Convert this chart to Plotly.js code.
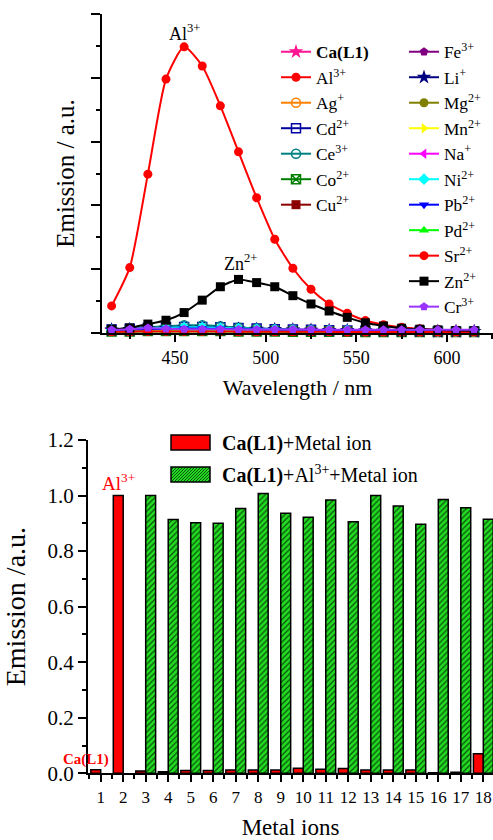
<!DOCTYPE html>
<html>
<head>
<meta charset="utf-8">
<script src="https://cdn.plot.ly/plotly-3.0.1.min.js"></script>
<style>
  html, body { margin: 0; padding: 0; background: #ffffff; }
  #chart { width: 493px; height: 840px; }
</style>
</head>
<body>
<div id="chart"></div>
<script>
// ---- Emission spectra (top panel) ----
const wavelength = [415, 425, 435, 445, 455, 465, 475, 485, 495, 505, 515, 525, 535, 545, 555, 565, 575, 585, 595, 605, 615];

const emCaL1 = [0.008, 0.009, 0.010, 0.010, 0.011, 0.011, 0.011, 0.010, 0.010, 0.009, 0.009, 0.008, 0.008, 0.007, 0.007, 0.006, 0.006, 0.006, 0.005, 0.005, 0.005];
const emAl   = [0.085, 0.205, 0.498, 0.796, 0.897, 0.837, 0.712, 0.568, 0.424, 0.294, 0.203, 0.137, 0.091, 0.062, 0.039, 0.026, 0.018, 0.013, 0.010, 0.008, 0.007];
const emAg   = [0.009, 0.010, 0.012, 0.013, 0.014, 0.014, 0.013, 0.012, 0.011, 0.010, 0.009, 0.008, 0.008, 0.007, 0.007, 0.006, 0.006, 0.005, 0.005, 0.005, 0.005];
const emCd   = [0.011, 0.013, 0.016, 0.018, 0.019, 0.019, 0.018, 0.016, 0.014, 0.012, 0.011, 0.010, 0.009, 0.008, 0.007, 0.007, 0.006, 0.006, 0.005, 0.005, 0.005];
const emCe   = [0.012, 0.014, 0.018, 0.021, 0.024, 0.024, 0.021, 0.017, 0.014, 0.012, 0.011, 0.010, 0.009, 0.008, 0.007, 0.007, 0.006, 0.006, 0.006, 0.005, 0.005];
const emCo   = [0.005, 0.005, 0.006, 0.006, 0.006, 0.006, 0.006, 0.005, 0.005, 0.005, 0.004, 0.004, 0.004, 0.004, 0.003, 0.003, 0.003, 0.003, 0.003, 0.003, 0.003];
const emCu   = [0.006, 0.006, 0.007, 0.007, 0.007, 0.007, 0.007, 0.006, 0.006, 0.006, 0.005, 0.005, 0.005, 0.004, 0.004, 0.004, 0.004, 0.003, 0.003, 0.003, 0.003];
const emFe   = [0.007, 0.008, 0.009, 0.009, 0.010, 0.010, 0.009, 0.009, 0.008, 0.008, 0.007, 0.007, 0.006, 0.006, 0.006, 0.005, 0.005, 0.005, 0.005, 0.004, 0.004];
const emLi   = [0.010, 0.011, 0.013, 0.015, 0.016, 0.016, 0.015, 0.013, 0.012, 0.011, 0.010, 0.009, 0.008, 0.008, 0.007, 0.006, 0.006, 0.006, 0.005, 0.005, 0.005];
const emMg   = [0.008, 0.009, 0.010, 0.011, 0.012, 0.012, 0.011, 0.010, 0.010, 0.009, 0.008, 0.008, 0.007, 0.007, 0.006, 0.006, 0.005, 0.005, 0.005, 0.005, 0.004];
const emMn   = [0.007, 0.008, 0.009, 0.010, 0.010, 0.010, 0.010, 0.009, 0.009, 0.008, 0.008, 0.007, 0.007, 0.006, 0.006, 0.005, 0.005, 0.005, 0.005, 0.004, 0.004];
const emNa   = [0.009, 0.010, 0.011, 0.012, 0.013, 0.013, 0.012, 0.011, 0.010, 0.010, 0.009, 0.008, 0.008, 0.007, 0.007, 0.006, 0.006, 0.005, 0.005, 0.005, 0.005];
const emNi   = [0.010, 0.012, 0.014, 0.016, 0.018, 0.018, 0.016, 0.014, 0.012, 0.011, 0.010, 0.009, 0.008, 0.008, 0.007, 0.007, 0.006, 0.006, 0.005, 0.005, 0.005];
const emPb   = [0.009, 0.010, 0.012, 0.013, 0.014, 0.014, 0.013, 0.012, 0.011, 0.010, 0.009, 0.009, 0.008, 0.007, 0.007, 0.006, 0.006, 0.005, 0.005, 0.005, 0.005];
const emPd   = [0.004, 0.004, 0.005, 0.005, 0.005, 0.005, 0.005, 0.005, 0.004, 0.004, 0.004, 0.004, 0.003, 0.003, 0.003, 0.003, 0.003, 0.003, 0.002, 0.002, 0.002];
const emSr   = [0.004, 0.004, 0.005, 0.005, 0.005, 0.005, 0.005, 0.004, 0.004, 0.004, 0.004, 0.004, 0.004, 0.003, 0.003, 0.003, 0.003, 0.003, 0.003, 0.003, 0.003];
const emZn   = [0.012, 0.016, 0.028, 0.040, 0.064, 0.103, 0.145, 0.168, 0.158, 0.145, 0.117, 0.091, 0.069, 0.049, 0.032, 0.022, 0.015, 0.012, 0.010, 0.008, 0.007];
const emCr   = [0.010, 0.012, 0.016, 0.013, 0.012, 0.012, 0.012, 0.011, 0.011, 0.011, 0.011, 0.011, 0.010, 0.010, 0.010, 0.010, 0.010, 0.010, 0.010, 0.010, 0.010];

// ---- Selectivity bars (bottom panel) ----
const ionIndex = [1, 2, 3, 4, 5, 6, 7, 8, 9, 10, 11, 12, 13, 14, 15, 16, 17, 18];
const withMetal = [0.013, 1.000, 0.008, 0.006, 0.010, 0.010, 0.012, 0.012, 0.012, 0.018, 0.015, 0.017, 0.012, 0.012, 0.012, 0.002, 0.004, 0.070];
const withAlAndMetal = [null, null, 1.000, 0.914, 0.902, 0.900, 0.953, 1.007, 0.936, 0.922, 0.984, 0.906, 1.000, 0.962, 0.897, 0.986, 0.956, 0.915];

const FONT = '"Liberation Serif", "Times New Roman", Times, serif';
const W = 493, H = 840;
const GREEN = '#22dd22', HATCH = '#0b4d0b';

// Series styling: name, values, colour, marker symbol, legend column
const series = [
  ['<b>Ca(L1)</b>', emCaL1, '#ff1493', 'star', 'legend'],
  ['Al<sup>3+</sup>', emAl, '#ff0000', 'circle', 'legend'],
  ['Ag<sup>+</sup>', emAg, '#ff8000', 'circle-open', 'legend'],
  ['Cd<sup>2+</sup>', emCd, '#0000a0', 'square-open', 'legend'],
  ['Ce<sup>3+</sup>', emCe, '#008080', 'circle-open', 'legend'],
  ['Co<sup>2+</sup>', emCo, '#008000', 'square-x-open', 'legend'],
  ['Cu<sup>2+</sup>', emCu, '#8b0000', 'square', 'legend'],
  ['Fe<sup>3+</sup>', emFe, '#800080', 'pentagon', 'legend2'],
  ['Li<sup>+</sup>', emLi, '#000080', 'star', 'legend2'],
  ['Mg<sup>2+</sup>', emMg, '#808000', 'circle', 'legend2'],
  ['Mn<sup>2+</sup>', emMn, '#ffff00', 'triangle-right', 'legend2'],
  ['Na<sup>+</sup>', emNa, '#ff00ff', 'triangle-left', 'legend2'],
  ['Ni<sup>2+</sup>', emNi, '#00ffff', 'diamond', 'legend2'],
  ['Pb<sup>2+</sup>', emPb, '#0000ff', 'triangle-down', 'legend2'],
  ['Pd<sup>2+</sup>', emPd, '#00ff00', 'triangle-up', 'legend2'],
  ['Sr<sup>2+</sup>', emSr, '#ff0000', 'circle', 'legend2'],
  ['Zn<sup>2+</sup>', emZn, '#000000', 'square', 'legend2'],
  ['Cr<sup>3+</sup>', emCr, '#9933ff', 'pentagon', 'legend2']
];

const traces = series.map(([name, vals, color, symbol, leg], i) => ({
  type: 'scatter',
  mode: 'lines+markers',
  x: wavelength,
  y: vals,
  name: name,
  legend: leg,
  legendgroup: 'g' + i,
  xaxis: 'x',
  yaxis: 'y',
  cliponaxis: false,
  line: { color: color, width: 2, shape: 'spline', smoothing: 0.6 },
  marker: {
    color: color,
    symbol: symbol,
    size: symbol === 'star' ? 11 : 9,
    line: { color: color, width: symbol.indexOf('open') >= 0 ? 1.5 : 0 }
  }
}));

traces.push({
  type: 'bar',
  x: ionIndex,
  y: withMetal,
  name: 'Ca(L1)+Metal ion',
  xaxis: 'x2',
  yaxis: 'y2',
  showlegend: false,
  cliponaxis: false,
  marker: { color: '#ff0000', line: { color: '#000000', width: 1.5 } }
});
traces.push({
  type: 'bar',
  x: ionIndex,
  y: withAlAndMetal,
  name: 'Ca(L1)+Al3+ +Metal ion',
  xaxis: 'x2',
  yaxis: 'y2',
  showlegend: false,
  cliponaxis: false,
  marker: {
    color: GREEN,
    line: { color: '#000000', width: 1.5 },
    pattern: { shape: '/', fgcolor: HATCH, bgcolor: GREEN, size: 4, solidity: 0.3, fillmode: 'replace' }
  }
});

// Hatched key swatch for the bar legend, built in pixel offsets
function hatchPath(w, h, step) {
  let p = '';
  for (let t = -h; t < w; t += step) {
    let x0 = t, y0 = 0, x1 = t + h, y1 = h;
    if (x0 < 0) { y0 = -x0; x0 = 0; }
    if (x1 > w) { y1 = h - (x1 - w); x1 = w; }
    p += 'M' + x0 + ',' + y0 + 'L' + x1 + ',' + y1;
  }
  return p;
}

const keyX = 171 / W, keyW = 39, keyH = 15;
const key1Top = 1 - 435 / H, key2Top = 1 - 467 / H;

const shapes = [
  { type: 'rect', xref: 'paper', yref: 'paper', xsizemode: 'pixel', ysizemode: 'pixel',
    xanchor: keyX, yanchor: key1Top, x0: 0, x1: keyW, y0: 0, y1: -keyH,
    fillcolor: '#ff0000', line: { color: '#000000', width: 1.5 } },
  { type: 'rect', xref: 'paper', yref: 'paper', xsizemode: 'pixel', ysizemode: 'pixel',
    xanchor: keyX, yanchor: key2Top, x0: 0, x1: keyW, y0: 0, y1: -keyH,
    fillcolor: GREEN, line: { width: 0 } },
  { type: 'path', xref: 'paper', yref: 'paper', xsizemode: 'pixel', ysizemode: 'pixel',
    xanchor: keyX, yanchor: key2Top - keyH / H,
    path: hatchPath(keyW, keyH, 3), line: { color: HATCH, width: 1 } },
  { type: 'rect', xref: 'paper', yref: 'paper', xsizemode: 'pixel', ysizemode: 'pixel',
    xanchor: keyX, yanchor: key2Top, x0: 0, x1: keyW, y0: 0, y1: -keyH,
    fillcolor: 'rgba(0,0,0,0)', line: { color: '#000000', width: 1.5 } }
];

const annotations = [
  { x: 455, y: 0.9, xref: 'x', yref: 'y', text: 'Al<sup>3+</sup>', showarrow: false,
    yanchor: 'bottom', font: { family: FONT, size: 18, color: '#000000' } },
  { x: 486, y: 0.18, xref: 'x', yref: 'y', text: 'Zn<sup>2+</sup>', showarrow: false,
    yanchor: 'bottom', font: { family: FONT, size: 18, color: '#000000' } },
  { x: 1.78, y: 1.0, xref: 'x2', yref: 'y2', text: 'Al<sup>3+</sup>', showarrow: false,
    yanchor: 'bottom', font: { family: FONT, size: 19, color: '#ff0000' } },
  { x: 111 / W, y: 0.048, xref: 'paper', yref: 'y2', xanchor: 'right',
    text: '<b>Ca(L1)</b>', showarrow: false,
    font: { family: FONT, size: 15, color: '#ff0000' } },
  { x: 220 / W, y: 1 - 443 / H, xref: 'paper', yref: 'paper', xanchor: 'left',
    text: '<b>Ca(L1)</b>+Metal ion', showarrow: false,
    font: { family: FONT, size: 20, color: '#000000' } },
  { x: 220 / W, y: 1 - 474 / H, xref: 'paper', yref: 'paper', xanchor: 'left',
    text: '<b>Ca(L1)</b>+Al<sup>3+</sup>+Metal ion', showarrow: false,
    font: { family: FONT, size: 20, color: '#000000' } }
];

const axisCommon = {
  showline: true, linecolor: '#000000', linewidth: 2,
  ticks: 'outside', tickcolor: '#000000', tickwidth: 2,
  showgrid: false, zeroline: false, mirror: false,
  tickfont: { family: FONT, size: 18, color: '#000000' }
};

const layout = {
  width: W, height: H,
  margin: { l: 0, r: 0, t: 0, b: 0 },
  paper_bgcolor: '#ffffff',
  plot_bgcolor: 'rgba(0,0,0,0)',
  font: { family: FONT, color: '#000000' },
  barmode: 'group',
  bargap: 0.12,
  bargroupgap: 0,
  xaxis: Object.assign({}, axisCommon, {
    domain: [102 / W, 1], anchor: 'y',
    range: [409.7, 625.4], tick0: 450, dtick: 50, ticklen: 7,
    minor: { dtick: 25, ticklen: 4, tickwidth: 2, tickcolor: '#000000', ticks: 'outside' },
    title: { text: 'Wavelength / nm', standoff: 13, font: { family: FONT, size: 22, color: '#000000' } }
  }),
  yaxis: Object.assign({}, axisCommon, {
    domain: [1 - 333 / H, 1 - 14 / H], anchor: 'x',
    range: [0, 1], dtick: 0.2, ticklen: 9, showticklabels: false,
    minor: { dtick: 0.1, ticklen: 4, tickwidth: 2, tickcolor: '#000000', ticks: 'outside' },
    title: { text: 'Emission / a.u.', standoff: 9, font: { family: FONT, size: 25, color: '#000000' } }
  }),
  xaxis2: Object.assign({}, axisCommon, {
    domain: [88 / W, 1], anchor: 'y2',
    range: [0.436, 18.43], tickmode: 'array', tickvals: ionIndex, ticklen: 7,
    ticklabeloverflow: 'allow',
    tickfont: { family: FONT, size: 17, color: '#000000' },
    minor: { dtick: 0.5, tick0: 0.5, ticklen: 4, tickwidth: 2, tickcolor: '#000000', ticks: 'outside' },
    title: { text: 'Metal ions', standoff: 17, font: { family: FONT, size: 23, color: '#000000' } }
  }),
  yaxis2: Object.assign({}, axisCommon, {
    domain: [1 - 773.3 / H, 1 - 440 / H], anchor: 'x2',
    range: [0, 1.2], dtick: 0.2, ticklen: 8, tickformat: '.1f',
    tickfont: { family: FONT, size: 21, color: '#000000' },
    minor: { dtick: 0.1, ticklen: 4, tickwidth: 2, tickcolor: '#000000', ticks: 'outside' },
    title: { text: 'Emission /a.u.', standoff: 26, font: { family: FONT, size: 28, color: '#000000' } }
  }),
  legend: {
    x: 276 / W, y: 1 - 34 / H, xanchor: 'left', yanchor: 'top',
    bgcolor: 'rgba(0,0,0,0)', borderwidth: 0, tracegroupgap: 0,
    font: { family: FONT, size: 17.3, color: '#000000' }
  },
  legend2: {
    x: 404 / W, y: 1 - 34 / H, xanchor: 'left', yanchor: 'top',
    bgcolor: 'rgba(0,0,0,0)', borderwidth: 0, tracegroupgap: 0,
    font: { family: FONT, size: 17.3, color: '#000000' }
  },
  shapes: shapes,
  annotations: annotations
};

Plotly.newPlot('chart', traces, layout, { staticPlot: true, displayModeBar: false });
</script>
</body>
</html>
